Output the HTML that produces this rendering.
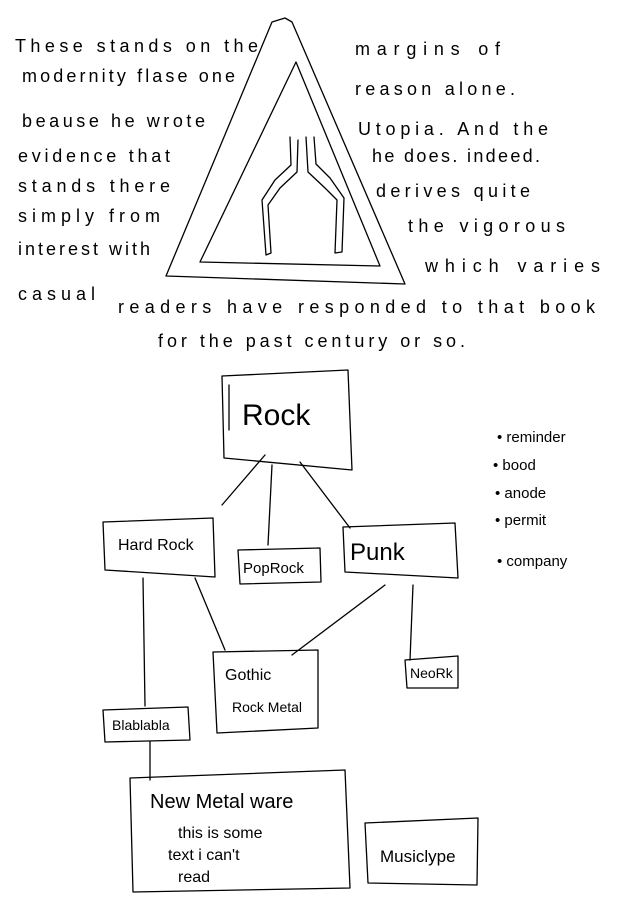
<!DOCTYPE html>
<html><head><meta charset="utf-8"><style>
html,body{margin:0;padding:0;background:#fff;}
svg{display:block}
text{font-family:"Liberation Sans",sans-serif;fill:#000;font-weight:300}
</style></head><body>
<svg width="640" height="905" viewBox="0 0 640 905" xmlns="http://www.w3.org/2000/svg" fill="none" stroke="#000" stroke-width="1.3" stroke-linecap="round" stroke-linejoin="round">
<path d="M285 18 L272 22 L166 276 L405 284 L292 22 Z"/>
<path d="M296 62 L200 262 L380 266 Z"/>
<path d="M290 137 L291 165 L275 180 L262 200 L266 255 L271 253 L268 205 L280 188 L297 172 L298 140"/>
<path d="M306 137 L308 172 L325 188 L337 200 L335 253 L342 252 L344 198 L330 178 L316 164 L314 137"/>
<path d="M222 376 L348 370 L352 470 L224 458 Z"/>
<path d="M229 385 L229 430"/>
<path d="M103 522 L213 518 L215 577 L105 570 Z"/>
<path d="M238 550 L320 548 L321 582 L240 584 Z"/>
<path d="M343 527 L455 523 L458 578 L345 572 Z"/>
<path d="M213 652 L318 650 L318 728 L217 733 Z"/>
<path d="M405 660 L458 656 L458 688 L407 688 Z"/>
<path d="M103 710 L188 707 L190 740 L105 742 Z"/>
<path d="M130 778 L345 770 L350 888 L133 892 Z"/>
<path d="M365 823 L478 818 L477 885 L368 883 Z"/>
<path d="M265 455 L222 505"/>
<path d="M272 465 L268 545"/>
<path d="M300 462 L350 528"/>
<path d="M143 578 L145 706"/>
<path d="M195 578 L225 650"/>
<path d="M385 585 L292 655"/>
<path d="M413 585 L410 660"/>
<path d="M150 742 L150 780"/>
<g stroke="none" font-size="18">
<text x="15" y="52" textLength="243">These stands on the</text>
<text x="22" y="82" textLength="213">modernity flase one</text>
<text x="22" y="127" textLength="183">beause he wrote</text>
<text x="18" y="162" textLength="152">evidence that</text>
<text x="18" y="192" textLength="152">stands there</text>
<text x="18" y="222" textLength="142">simply from</text>
<text x="18" y="255" textLength="132">interest with</text>
<text x="18" y="300" textLength="77">casual</text>
<text x="355" y="55" textLength="145">margins of</text>
<text x="355" y="95" textLength="160">reason alone.</text>
<text x="358" y="135" textLength="190">Utopia. And the</text>
<text x="372" y="162" textLength="168">he does. indeed.</text>
<text x="376" y="197" textLength="154">derives quite</text>
<text x="408" y="232" textLength="157">the vigorous</text>
<text x="425" y="272" textLength="175">which varies</text>
<text x="118" y="313" textLength="477">readers have responded to that book</text>
<text x="158" y="347" textLength="307">for the past century or so.</text>
<text x="242" y="425" font-size="30">Rock</text>
<text x="118" y="550" font-size="16">Hard Rock</text>
<text x="243" y="573" font-size="15">PopRock</text>
<text x="350" y="560" font-size="24">Punk</text>
<text x="225" y="680" font-size="16">Gothic</text>
<text x="232" y="712" font-size="14">Rock Metal</text>
<text x="410" y="678" font-size="14">NeoRk</text>
<text x="112" y="730" font-size="14">Blablabla</text>
<text x="150" y="808" font-size="20">New Metal ware</text>
<text x="178" y="838" font-size="16">this is some</text>
<text x="168" y="860" font-size="16">text i can't</text>
<text x="178" y="882" font-size="16">read</text>
<text x="380" y="862" font-size="17">Musiclype</text>
<text x="497" y="442" font-size="15">• reminder</text>
<text x="493" y="470" font-size="15">• bood</text>
<text x="495" y="498" font-size="15">• anode</text>
<text x="495" y="525" font-size="15">• permit</text>
<text x="497" y="566" font-size="15">• company</text>
</g>
</svg>
</body></html>
